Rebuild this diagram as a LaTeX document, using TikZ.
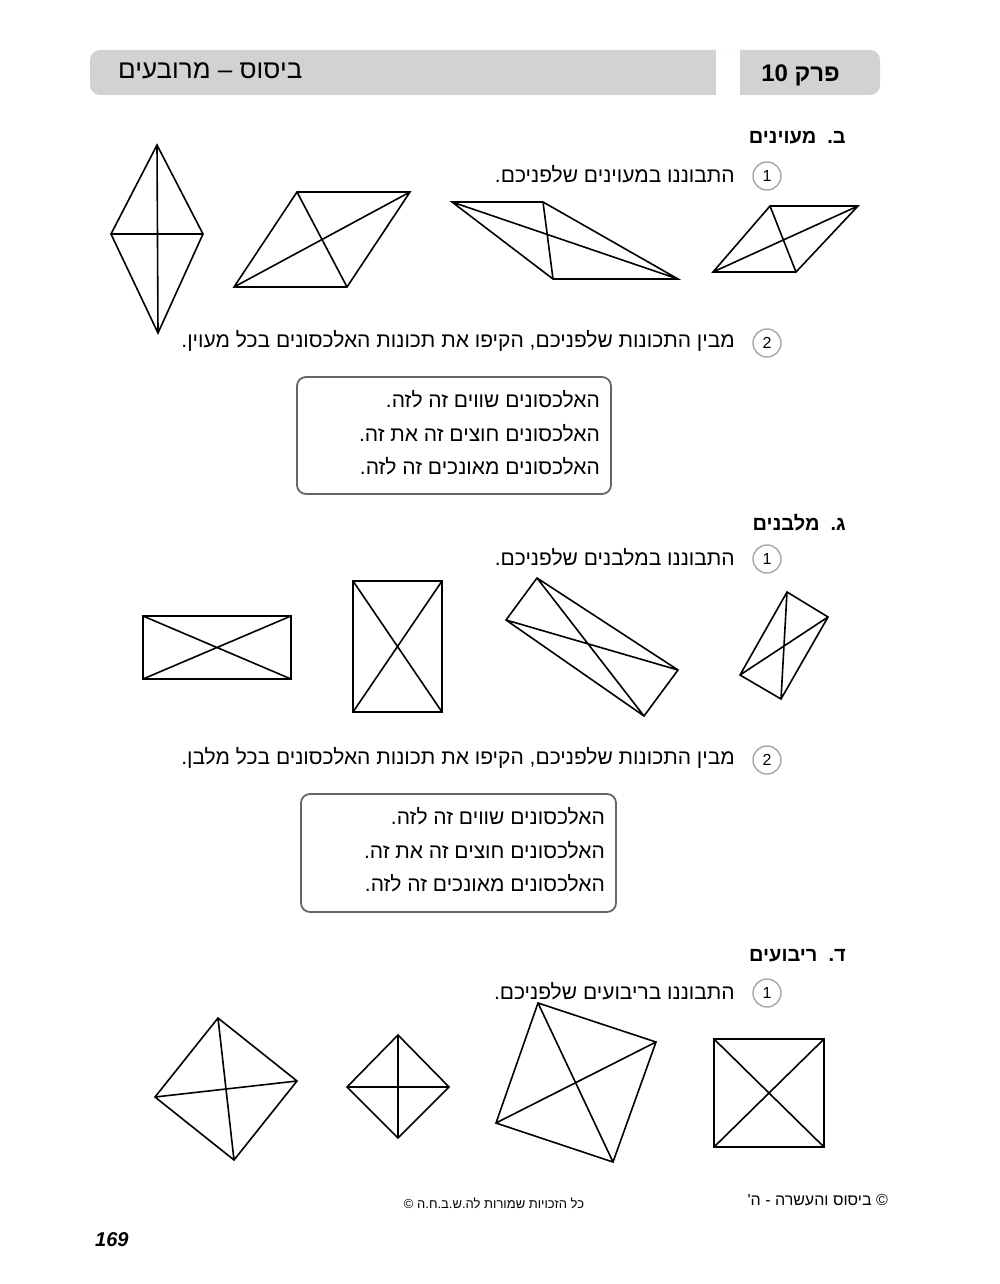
\documentclass[tikz,border=0pt]{standalone}
\usepackage{fontspec}
\setmainfont{Liberation Sans}
\TeXXeTstate=1
\newfontfamily\hebfont[Script=Hebrew]{Liberation Sans}
\begin{document}
\begin{tikzpicture}[x=1pt,y=-1pt,
  fig/.style={line width=1.6pt,line join=miter},
  txt/.style={anchor=east,font=\fontsize{21}{24}\selectfont\hebfont,inner sep=0pt},
  numc/.style={circle,draw=gray!70,line width=1.4pt,minimum size=28pt,inner sep=0pt,font=\fontsize{16}{18}\selectfont},
  secl/.style={anchor=east,font=\fontsize{20}{24}\selectfont\hebfont\bfseries,inner sep=0pt},
  optbox/.style={draw=gray!80!black,line width=1.8pt,rounded corners=9pt}]
\useasboundingbox (0,0) rectangle (1000,1284);
% header
\fill[gray!35,rounded corners=10pt] (90,50) rectangle (880,95);
\fill[white] (716,50) rectangle (740,95);
\node[anchor=west,font=\fontsize{26}{28}\selectfont\hebfont,inner sep=0pt] (title) at (118,71) {\beginR ביסוס – מרובעים\endR};
\node[anchor=east,font=\fontsize{24}{28}\selectfont\hebfont\bfseries,inner sep=0pt] (chap) at (840,75) {\beginR פרק \beginL 10\endL\endR};
% section b
\node[secl] (sb) at (846,138) {\beginR ב.\ \ מעוינים\endR};
\node[numc] (c1) at (767,176) {1};
\node[txt] (t1) at (735,174) {\beginR התבוננו במעוינים שלפניכם.\endR};
\draw[fig] (157,145) -- (203,234) -- (158,333) -- (111,234) -- cycle (157,145) -- (158,333) (111,234) -- (203,234);
\draw[fig] (297,192) -- (410,192) -- (347,287) -- (234,287) -- cycle (297,192) -- (347,287) (410,192) -- (234,287);
\draw[fig] (452,202) -- (543,202) -- (678,279) -- (553,279) -- cycle (452,202) -- (678,279) (543,202) -- (553,279);
\draw[fig] (770,206) -- (858,206) -- (796,272) -- (713,272) -- cycle (770,206) -- (796,272) (858,206) -- (713,272);
\node[numc] (c2) at (767,343) {2};
\node[txt] (t2) at (735,341) {\beginR מבין התכונות שלפניכם, הקיפו את תכונות האלכסונים בכל מעוין.\endR};
\draw[optbox] (297,377) rectangle (611,494);
\node[txt] (o1) at (600,399) {\beginR האלכסונים שווים זה לזה.\endR};
\node[txt] (o2) at (600,433) {\beginR האלכסונים חוצים זה את זה.\endR};
\node[txt] (o3) at (600,466) {\beginR האלכסונים מאונכים זה לזה.\endR};
% section g
\node[secl] (sg) at (846,523) {\beginR ג.\ \ מלבנים\endR};
\node[numc] (c3) at (767,559) {1};
\node[txt] (t3) at (735,557) {\beginR התבוננו במלבנים שלפניכם.\endR};
\draw[fig] (143,616) rectangle (291,679) (143,616) -- (291,679) (291,616) -- (143,679);
\draw[fig] (353,581) rectangle (442,712) (353,581) -- (442,712) (442,581) -- (353,712);
\draw[fig] (537,578) -- (678,670) -- (644,716) -- (506,620) -- cycle (537,578) -- (644,716) (506,620) -- (678,670);
\draw[fig] (787,592) -- (828,617) -- (781,699) -- (740,675) -- cycle (787,592) -- (781,699) (828,617) -- (740,675);
\node[numc] (c4) at (767,760) {2};
\node[txt] (t4) at (735,758) {\beginR מבין התכונות שלפניכם, הקיפו את תכונות האלכסונים בכל מלבן.\endR};
\draw[optbox] (301,794) rectangle (616,912);
\node[txt] (o4) at (605,816) {\beginR האלכסונים שווים זה לזה.\endR};
\node[txt] (o5) at (605,850) {\beginR האלכסונים חוצים זה את זה.\endR};
\node[txt] (o6) at (605,883) {\beginR האלכסונים מאונכים זה לזה.\endR};
% section d
\node[secl] (sd) at (846,956) {\beginR ד.\ \ ריבועים\endR};
\node[numc] (c5) at (767,993) {1};
\node[txt] (t5) at (735,991) {\beginR התבוננו בריבועים שלפניכם.\endR};
\draw[fig] (218,1018) -- (297,1081) -- (234,1160) -- (155,1097) -- cycle (218,1018) -- (234,1160) (297,1081) -- (155,1097);
\draw[fig] (398,1035) -- (449,1087) -- (398,1138) -- (347,1087) -- cycle (398,1035) -- (398,1138) (347,1087) -- (449,1087);
\draw[fig] (538,1003) -- (656,1042) -- (613,1162) -- (496,1123) -- cycle (538,1003) -- (613,1162) (656,1042) -- (496,1123);
\draw[fig] (714,1039) rectangle (824,1147) (714,1039) -- (824,1147) (824,1039) -- (714,1147);
% footer
\node[anchor=west,font=\fontsize{20}{22}\selectfont\itshape\bfseries,inner sep=0pt] (pg) at (95,1240) {169};
\node[font=\fontsize{13}{15}\selectfont\hebfont,inner sep=0pt] (cr) at (494,1203) {\beginR כל הזכויות שמורות לה.ש.ב.ח.ה ©\endR};
\node[anchor=east,font=\fontsize{16}{18}\selectfont\hebfont,inner sep=0pt] (fr) at (888,1200) {\beginR © ביסוס והעשרה - ה'\endR};
\end{tikzpicture}
\end{document}
